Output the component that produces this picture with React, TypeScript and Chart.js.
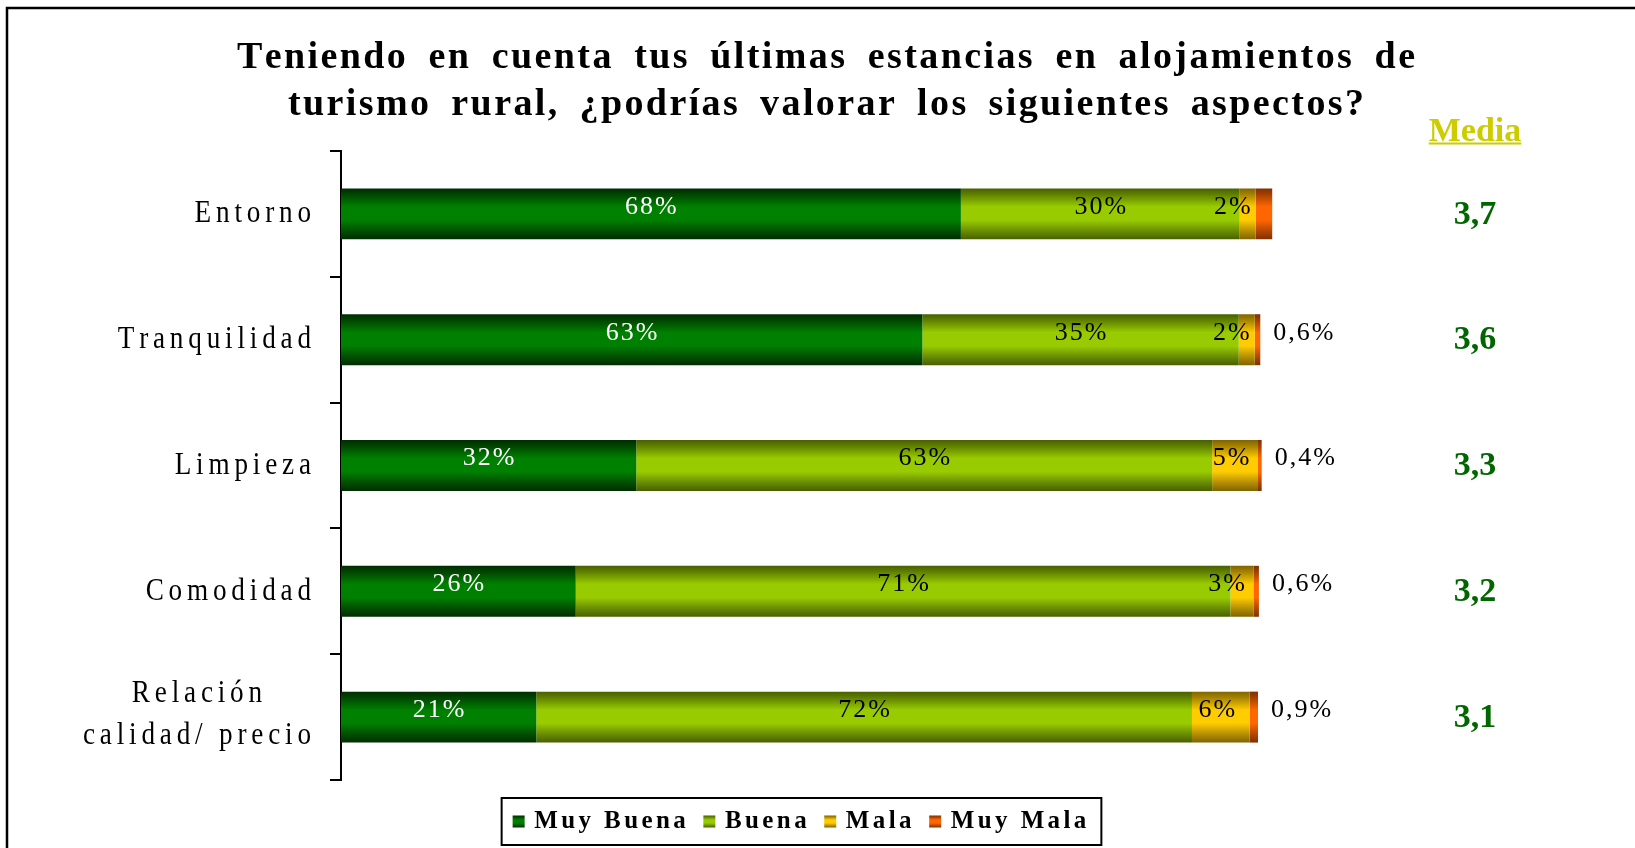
import React, { useEffect, useRef } from 'react';
import { Chart, registerables } from 'chart.js';

Chart.register(...registerables);

// ---------------- DATA ----------------
const categories: (string | string[])[] = [
  'Entorno',
  'Tranquilidad',
  'Limpieza',
  'Comodidad',
  ['Relación', 'calidad/ precio'],
];
const seriesNames = ['Muy Buena', 'Buena', 'Mala', 'Muy Mala'];
const muyBuena = [67.6, 63.4, 32.2, 25.6, 21.3];
const buena = [30.4, 34.5, 62.8, 71.4, 71.5];
const mala = [1.75, 1.75, 5.0, 2.5, 6.3];
const muyMala = [1.8, 0.6, 0.4, 0.6, 0.9];
const muyMalaLabels: (string | null)[] = [null, '0,6%', '0,4%', '0,6%', '0,9%'];
const mediaValues = [3.7, 3.6, 3.3, 3.2, 3.1];
const mediaTitle = 'Media';
const titleLines = [
  'Teniendo en cuenta tus últimas estancias en alojamientos de',
  'turismo rural, ¿podrías valorar los siguientes aspectos?',
];

// ---------------- STYLE ----------------
const W = 1635;
const H = 848;
const BAR_PCT = 0.405;
const SERIF = '"Liberation Serif", "Times New Roman", serif';
const palette = [
  { dark: [0, 45, 0], light: [0, 128, 0] },
  { dark: [72, 96, 0], light: [153, 204, 0] },
  { dark: [128, 100, 0], light: [255, 204, 0] },
  { dark: [128, 48, 0], light: [255, 102, 0] },
];
const labelColors = ['#ffffff', '#000000', '#000000', '#000000'];

function mix(a: number[], b: number[], t: number) {
  const c = a.map((v, i) => Math.round(v + (b[i] - v) * t));
  return `rgb(${c[0]},${c[1]},${c[2]})`;
}

function makeGrad(ctx: CanvasRenderingContext2D, y0: number, y1: number, p: { dark: number[]; light: number[] }) {
  const g = ctx.createLinearGradient(0, y0, 0, y1);
  g.addColorStop(0, mix(p.dark, p.light, 0));
  g.addColorStop(0.12, mix(p.dark, p.light, 0.3));
  g.addColorStop(0.36, mix(p.dark, p.light, 1));
  g.addColorStop(0.62, mix(p.dark, p.light, 1));
  g.addColorStop(0.86, mix(p.dark, p.light, 0.35));
  g.addColorStop(1, mix(p.dark, p.light, 0));
  return g;
}

function charWidths(ctx: CanvasRenderingContext2D, text: string, sx: number) {
  return Array.from(text).map((c) => ctx.measureText(c).width * sx);
}

function spacedWidth(ctx: CanvasRenderingContext2D, text: string, ls: number, sx = 1, extraSpace = 0) {
  const chars = Array.from(text);
  const w = charWidths(ctx, text, sx);
  const spaces = chars.filter((c) => c === ' ').length;
  return w.reduce((a, b) => a + b, 0) + ls * Math.max(0, w.length - 1) + spaces * extraSpace;
}

function drawSpaced(
  ctx: CanvasRenderingContext2D,
  text: string,
  x: number,
  y: number,
  align: 'left' | 'center' | 'right',
  ls: number,
  sx = 1,
  extraSpace = 0
) {
  const chars = Array.from(text);
  const widths = charWidths(ctx, text, sx);
  const total = spacedWidth(ctx, text, ls, sx, extraSpace);
  let cx = align === 'left' ? x : align === 'center' ? x - total / 2 : x - total;
  ctx.save();
  ctx.textAlign = 'left';
  chars.forEach((c, k) => {
    ctx.save();
    ctx.translate(cx, y);
    ctx.scale(sx, 1);
    ctx.fillText(c, 0, 0);
    ctx.restore();
    cx += widths[k] + ls + (c === ' ' ? extraSpace : 0);
  });
  ctx.restore();
  return total;
}

function drawFitted(ctx: CanvasRenderingContext2D, text: string, cx: number, y: number, target: number, ls: number) {
  const base = spacedWidth(ctx, text, ls);
  const spaces = Array.from(text).filter((c) => c === ' ').length;
  const extra = spaces ? (target - base) / spaces : 0;
  drawSpaced(ctx, text, cx, y, 'center', ls, 1, extra);
}

const decorPlugin = {
  id: 'decor',
  beforeDraw(chart: any) {
    const ctx: CanvasRenderingContext2D = chart.ctx;
    ctx.save();
    ctx.fillStyle = '#ffffff';
    ctx.fillRect(0, 0, W, H);
    ctx.strokeStyle = '#000000';
    ctx.lineWidth = 2.5;
    ctx.strokeRect(7, 8, W + 50, H + 50);
    ctx.restore();
  },
  afterDatasetsDraw(chart: any) {
    const ctx: CanvasRenderingContext2D = chart.ctx;
    ctx.save();
    ctx.font = `26px ${SERIF}`;
    ctx.textBaseline = 'middle';
    for (let d = 0; d < 3; d++) {
      const meta = chart.getDatasetMeta(d);
      const vals = chart.data.datasets[d].data as number[];
      meta.data.forEach((el: any, i: number) => {
        const { x, base, y } = el.getProps(['x', 'base', 'y'], true);
        const text = `${Math.round(vals[i])}%`;
        const tw = spacedWidth(ctx, text, 2);
        const segW = Math.abs(x - base);
        let cx = (x + base) / 2;
        if (tw > segW - 4) cx = (x + base) / 2 + 3 - tw / 2;
        else if (segW < 60) cx -= 4;
        ctx.fillStyle = labelColors[d];
        drawSpaced(ctx, text, cx, y - 7, 'center', 2);
      });
    }
    const meta3 = chart.getDatasetMeta(3);
    meta3.data.forEach((el: any, i: number) => {
      const lbl = muyMalaLabels[i];
      if (!lbl) return;
      const { x, y } = el.getProps(['x', 'y'], true);
      ctx.fillStyle = '#000000';
      drawSpaced(ctx, lbl, x + 13, y - 7, 'left', 2);
    });
    ctx.restore();
  },
  afterDraw(chart: any) {
    const ctx: CanvasRenderingContext2D = chart.ctx;
    const yScale = chart.scales.y;
    const area = chart.chartArea;
    ctx.save();

    // Title
    ctx.fillStyle = '#000000';
    ctx.font = `bold 38px ${SERIF}`;
    ctx.textBaseline = 'alphabetic';
    drawFitted(ctx, titleLines[0], 826, 68, 1178, 2.4);
    drawFitted(ctx, titleLines[1], 826, 115, 1076, 2.4);

    // Category labels
    ctx.font = `32px ${SERIF}`;
    ctx.textBaseline = 'middle';
    const labelRight = area.left - 30;
    const LSC = 4.8;
    const SXC = 0.85;
    (chart.data.labels as (string | string[])[]).forEach((lab, i) => {
      const yc = yScale.getPixelForValue(i);
      const lines = Array.isArray(lab) ? lab : [lab];
      const ws = lines.map((l) => spacedWidth(ctx, l, LSC, SXC));
      const maxW = Math.max(...ws);
      lines.forEach((l, k) => {
        const ly = yc + (k - (lines.length - 1) / 2) * 42 - (lines.length > 1 ? 3 : 0);
        drawSpaced(ctx, l, labelRight - maxW / 2, ly, 'center', LSC, SXC);
      });
    });

    // Media column
    const mediaX = 1475;
    ctx.font = `bold 34px ${SERIF}`;
    ctx.textAlign = 'center';
    ctx.textBaseline = 'alphabetic';
    ctx.fillStyle = '#CCCC00';
    ctx.fillText(mediaTitle, mediaX, 141);
    const mw = ctx.measureText(mediaTitle).width;
    ctx.fillRect(mediaX - mw / 2, 142.5, mw, 2);
    ctx.fillStyle = '#006600';
    ctx.textBaseline = 'middle';
    mediaValues.forEach((v, i) => {
      const yc = yScale.getPixelForValue(i);
      ctx.fillText(v.toFixed(1).replace('.', ','), mediaX, yc + 1);
    });

    // Legend
    ctx.font = `bold 25px ${SERIF}`;
    ctx.textBaseline = 'middle';
    const LS = 3.4;
    const marker = 12;
    const mGap = 9.6;
    const iGap = 17.6;
    const names = chart.data.datasets.map((ds: any) => ds.label as string);
    const tws = names.map((n: string) => spacedWidth(ctx, n, LS));
    const content = tws.reduce((a: number, b: number) => a + b + marker + mGap, 0) + iGap * (names.length - 1);
    const boxW = content + 11 + 15;
    const boxH = 47;
    const boxY = 798;
    const boxX = (area.left + area.right) / 2 + 2 - boxW / 2;
    ctx.fillStyle = '#ffffff';
    ctx.fillRect(boxX, boxY, boxW, boxH);
    ctx.strokeStyle = '#000000';
    ctx.lineWidth = 2;
    ctx.strokeRect(boxX, boxY, boxW, boxH);
    let lx = boxX + 11;
    const ly = boxY + boxH / 2;
    names.forEach((n: string, k: number) => {
      ctx.fillStyle = makeGrad(ctx, ly - marker / 2, ly + marker / 2, palette[k]);
      ctx.fillRect(lx, ly - marker / 2, marker, marker);
      lx += marker + mGap;
      ctx.fillStyle = '#000000';
      drawSpaced(ctx, n, lx, ly, 'left', LS);
      lx += tws[k] + iGap;
    });

    ctx.restore();
  },
};

export default function App() {
  const ref = useRef<HTMLCanvasElement | null>(null);

  useEffect(() => {
    document.body.style.margin = '0';
    document.body.style.overflow = 'hidden';
    const canvas = ref.current;
    if (!canvas) return;
    const series = [muyBuena, buena, mala, muyMala];
    const chart = new Chart(canvas, {
      type: 'bar',
      data: {
        labels: categories as any,
        datasets: series.map((vals, d) => ({
          label: seriesNames[d],
          data: vals,
          backgroundColor: (c: any) => {
            const ch = c.chart;
            const area = ch.chartArea;
            if (!area || !ch.scales.y) return mix(palette[d].light, palette[d].light, 1);
            const yc = ch.scales.y.getPixelForValue(c.dataIndex);
            const h = (area.height / categories.length) * BAR_PCT;
            return makeGrad(ch.ctx, yc - h / 2, yc + h / 2, palette[d]);
          },
          borderWidth: 0,
          barPercentage: BAR_PCT,
          categoryPercentage: 1,
          clip: false as any,
        })),
      },
      options: {
        responsive: false,
        animation: false,
        indexAxis: 'y',
        events: [],
        layout: { padding: { left: 0, right: 377, top: 151, bottom: 68 } },
        scales: {
          x: { stacked: true, display: false, min: 0, max: 100 },
          y: {
            stacked: true,
            offset: true,
            grid: {
              offset: true,
              drawOnChartArea: false,
              drawTicks: true,
              tickLength: 11,
              color: '#000000',
              lineWidth: 2,
            },
            border: { display: true, color: '#000000', width: 2 },
            ticks: { display: false },
            afterFit: (s: any) => {
              s.width = 341;
            },
          },
        },
        plugins: {
          legend: { display: false },
          title: { display: false },
          tooltip: { enabled: false },
        },
      },
      plugins: [decorPlugin],
    });
    return () => chart.destroy();
  }, []);

  return <canvas ref={ref} width={W} height={H} style={{ display: 'block', width: W, height: H }} />;
}
